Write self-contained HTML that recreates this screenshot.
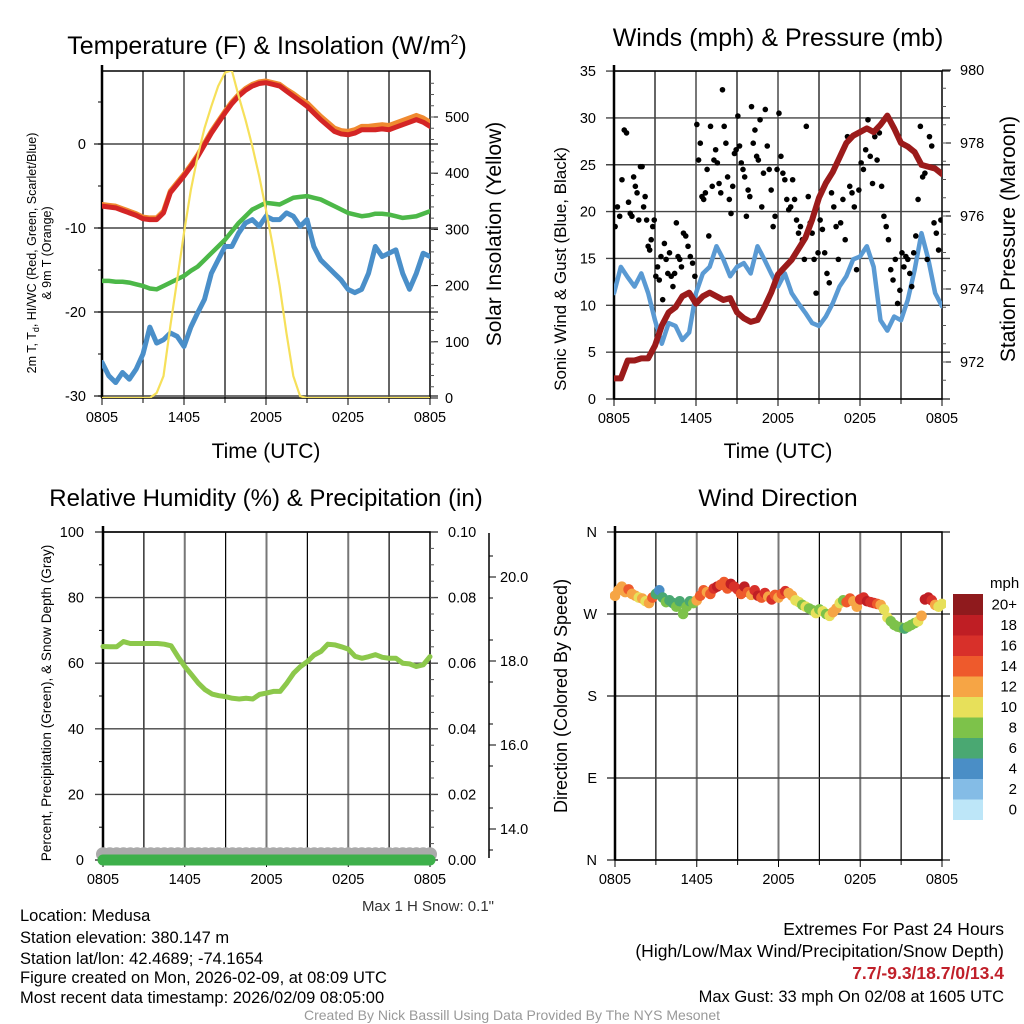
<!DOCTYPE html>
<html><head><meta charset="utf-8"><style>
html,body{margin:0;padding:0;background:#fff;}
svg{display:block;font-family:"Liberation Sans",sans-serif;}
</style></head><body>
<svg id="c" width="1024" height="1024" viewBox="0 0 1024 1024" xmlns="http://www.w3.org/2000/svg">
<defs>
<clipPath id="cp1"><rect x="102" y="71" width="328" height="327"/></clipPath>
<clipPath id="cp2"><rect x="614" y="71" width="328" height="328"/></clipPath>
<clipPath id="cp4"><rect x="610" y="528" width="336" height="336"/></clipPath>
</defs>
<g id="static">
<text x="267" y="54" font-size="25" text-anchor="middle">Temperature (F) &amp; Insolation (W/m<tspan font-size="14" dy="-10">2</tspan><tspan dy="10">)</tspan></text>
<text x="778" y="46" font-size="25" text-anchor="middle">Winds (mph) &amp; Pressure (mb)</text>
<text x="266" y="506" font-size="24" text-anchor="middle">Relative Humidity (%) &amp; Precipitation (in)</text>
<text x="778" y="506" font-size="24.5" text-anchor="middle">Wind Direction</text>
<text x="266" y="458" font-size="21" text-anchor="middle">Time (UTC)</text>
<text x="778" y="458" font-size="21" text-anchor="middle">Time (UTC)</text>
<g transform="translate(36,253) rotate(-90)"><text x="0" y="0" font-size="12.5" text-anchor="middle">2m T, T<tspan font-size="9" dy="3">d</tspan><tspan dy="-3">, HI/WC (Red, Green, Scarlet/Blue)</tspan></text><text x="0" y="15" font-size="12.5" text-anchor="middle">&amp; 9m T (Orange)</text></g>
<text transform="translate(501,234) rotate(-90)" font-size="21" text-anchor="middle">Solar Insolation (Yellow)</text>
<text transform="translate(566,269) rotate(-90)" font-size="17" text-anchor="middle">Sonic Wind &amp; Gust (Blue, Black)</text>
<text transform="translate(1015,239) rotate(-90)" font-size="21" text-anchor="middle">Station Pressure (Maroon)</text>
<text transform="translate(51,703) rotate(-90)" font-size="13.6" text-anchor="middle">Percent, Precipitation (Green), &amp; Snow Depth (Gray)</text>
<text transform="translate(567,696) rotate(-90)" font-size="18" text-anchor="middle">Direction (Colored By Speed)</text>
<text x="494" y="911" font-size="15" text-anchor="end" fill="#333">Max 1 H Snow: 0.1"</text>
<g font-size="16.5">
<text x="20" y="921">Location: Medusa</text>
<text x="20" y="943">Station elevation: 380.147 m</text>
<text x="20" y="964">Station lat/lon: 42.4689; -74.1654</text>
<text x="20" y="983">Figure created on Mon, 2026-02-09, at 08:09 UTC</text>
<text x="20" y="1003">Most recent data timestamp: 2026/02/09 08:05:00</text>
</g>
<g font-size="17.5" text-anchor="end">
<text x="1004" y="935">Extremes For Past 24 Hours</text>
<text x="1004" y="957">(High/Low/Max Wind/Precipitation/Snow Depth)</text>
<text x="1004" y="979" fill="#c0202a" font-weight="bold">7.7/-9.3/18.7/0/13.4</text>
<text x="1004" y="1002" font-size="16.5">Max Gust: 33 mph On 02/08 at 1605 UTC</text>
</g>
<text x="512" y="1020" font-size="14" fill="#999" text-anchor="middle">Created By Nick Bassill Using Data Provided By The NYS Mesonet</text>
<text x="990" y="588" font-size="15">mph</text>
</g>
<g id="dyn"></g>
</svg>
<script>
// ---- data (half-hourly unless noted) ----
const xTickLabels = ["0805","1405","2005","0205","0805"];
const tempTicks = [0,-10,-20,-30];
const solarTicks = [0,100,200,300,400,500];
const windTicks = [0,5,10,15,20,25,30,35];
const presTicks = [972,974,976,978,980];
const rhTicks = [0,20,40,60,80,100];
const precipTicks = ["0.00","0.02","0.04","0.06","0.08","0.10"];
const snowTicks = [14,16,18,20];
const dirLabels = ["N","E","S","W","N"];
const cbLabels = ["0","2","4","6","8","10","12","14","16","18","20+"];
const cbColors = ["#bde6f8","#84bce6","#4a8ec6","#4aa872","#7dc24a","#e7e05a","#f6a545","#ee5a2c","#d8302a","#bf1e24","#8f1a1d"];

const tempRed = [-7.4,-7.5,-7.6,-7.9,-8.2,-8.5,-8.9,-9.0,-9.0,-8.2,-5.8,-4.8,-3.8,-2.7,-1.5,-0.1,1.3,2.5,3.7,4.8,5.7,6.4,6.9,7.2,7.3,7.1,6.9,6.3,5.7,5.1,4.5,3.7,2.9,2.2,1.5,1.2,1.1,1.3,1.7,1.7,1.7,1.8,1.7,2.0,2.3,2.6,2.9,2.6,2.1];
const tempOrange = [-7.2,-7.3,-7.4,-7.7,-8.0,-8.3,-8.7,-8.8,-8.8,-8.0,-5.6,-4.6,-3.6,-2.5,-1.3,0.1,1.5,2.7,3.9,5.0,5.9,6.6,7.1,7.4,7.5,7.3,7.1,6.5,6.0,5.4,4.9,4.1,3.3,2.6,1.9,1.6,1.5,1.7,2.1,2.1,2.2,2.3,2.2,2.5,2.8,3.1,3.4,3.1,2.6];
const tempGreen = [-16.3,-16.3,-16.4,-16.4,-16.5,-16.7,-16.9,-17.2,-17.3,-16.9,-16.5,-16.1,-15.7,-15.1,-14.6,-13.8,-13.0,-12.2,-11.4,-10.4,-9.4,-8.6,-7.8,-7.4,-7.0,-7.1,-7.2,-6.8,-6.4,-6.3,-6.2,-6.4,-6.6,-7.0,-7.4,-7.8,-8.2,-8.4,-8.6,-8.5,-8.3,-8.3,-8.4,-8.6,-8.8,-8.7,-8.6,-8.3,-8.0];
const tempBlue = [-26.0,-27.6,-28.4,-27.2,-28.0,-26.8,-25.0,-21.8,-23.7,-23.3,-22.5,-22.9,-24.1,-21.8,-20.1,-18.5,-15.4,-13.8,-12.2,-12.2,-10.6,-9.4,-9.0,-9.8,-8.6,-9.0,-9.0,-8.2,-8.6,-9.8,-9.0,-12.2,-13.8,-14.6,-15.4,-16.2,-17.3,-17.7,-17.3,-15.4,-12.2,-13.4,-13.0,-12.6,-15.4,-17.3,-15.4,-13.0,-13.4];
const solar = [0,0,0,0,0,0,0,0,9,39,128,210,294,370,430,480,519,555,579,583,537,495,448,395,335,270,199,115,39,3,0,0,0,0,0,0,0,0,0,0,0,0,0,0,0,0,0,0,0];

const windBlue = [11.3,14.1,13.0,12.0,13.4,11.3,8.4,5.9,8.1,7.8,6.3,7.1,11.3,13.4,14.1,16.3,14.9,13.1,14.1,14.5,13.4,16.3,14.9,13.4,12.0,13.4,11.3,10.2,9.2,8.1,7.8,8.8,10.2,12.0,13.1,14.9,15.2,16.3,14.1,8.4,7.3,8.8,8.4,10.6,13.8,17.7,14.9,11.3,9.9];
const pressure = [971.55,971.55,972.04,972.04,972.1,972.1,972.45,973.0,973.36,973.5,973.8,973.9,973.6,973.8,973.9,973.8,973.7,973.75,973.36,973.2,973.1,973.15,973.5,973.9,974.4,974.6,974.8,975.1,975.4,975.9,976.5,976.9,977.2,977.6,978.0,978.2,978.3,978.4,978.3,978.5,978.75,978.4,978.0,977.9,977.75,977.4,977.35,977.3,977.15];
const gustByHour = [
 [18.4,20.5,19.5,23.4,28.7,28.4],[21,19.8,19.5,23.7,22.7,22,19.1,24.8],[24.8,20.5,21.6,19.1,16.3,15.9,17,18.4,19.1],
 [13.1,14.1,12.7,15.2,10.6,16.6,14.9,13.4],[15.6,13.1,12,13.4,18.8,15.2,14.9,14.1],[17.7,17.4,16.3,15.2,14.5,13.1],
 [29.3,25.5,27.3,21.6,21.3,22,24.5,17.4],[29.1,22.7,25.5,26.6,25.2,23,22,33],[29.1,27.3,23.7,21.3,19.8,22.7,26.2,26.6],
 [30.2,27,25.2,24.5,23.7,19.5,22.3,21.6],[31.2,27.3,28.7,25.9,25.5,29.8,20.5,24.1],[30.9,27,24.5,22.3,18.4,19.5,24.5],
 [30.5,25.9,24.1,23.4,21.3,20.2,20.5],[23.4,21.3,19.1,17.7,18.4,17,14.9],[29.1,21.6,18.8,17.7,14.9,11.3,15.6],
 [19.1,18.1,15.6,13.4,12.4,22],[20.5,18.4,14.9,18.8,21.3,17],[28,22.7,22,20.5,13.8,22.3],
 [25.2,24.5,26.6,29.8,25.9,23],[28,25.5,28.4,22.7,19.5,18.4],[17,13.8,12.7,14.9,10.2,11.6],
 [15.6,14.1,15.2,14.9,13.4,12,15.6],[17.4,21.3,29.1,23.7,24.1,14.9],[28,27,18.8,17.7,15.9,19.1]];

const rh = [65.1,65.0,65.0,66.6,66.0,66.0,66.0,66.0,66.0,65.8,65.3,62.0,59.0,56.5,53.9,51.9,50.6,50.1,49.8,49.3,49.1,49.3,49.1,50.5,50.9,51.4,51.4,54.0,57.0,59.0,60.5,62.5,63.6,65.8,65.6,65.0,64.3,62.1,61.5,62.0,62.6,61.8,61.5,61.5,60.0,59.8,59.0,59.5,62.0];
const precip = [0,0,0,0,0,0,0,0,0,0,0,0,0,0,0,0,0,0,0,0,0,0,0,0,0,0,0,0,0,0,0,0,0,0,0,0,0,0,0,0,0,0,0,0,0,0,0,0,0];
const snowDepth = [13.4,13.4,13.4,13.4,13.4,13.4,13.4,13.4,13.4,13.4,13.4,13.4,13.4,13.4,13.4,13.4,13.4,13.4,13.4,13.4,13.4,13.4,13.4,13.4,13.4,13.4,13.4,13.4,13.4,13.4,13.4,13.4,13.4,13.4,13.4,13.4,13.4,13.4,13.4,13.4,13.4,13.4,13.4,13.4,13.4,13.4,13.4,13.4,13.4];

// quarter-hourly wind direction (deg) and speed (mph)
const windDir = [290,296,300,294,297,292,290,288,287,284,282,288,
 292,296,288,283,285,282,278,284,270,278,284,282,
 285,290,296,294,292,298,300,302,305,298,303,300,
 297,292,300,294,291,296,290,288,293,289,286,291,
 288,292,295,293,290,285,283,280,278,276,274,271,
 275,273,270,268,272,276,282,285,283,287,284,278,
 286,288,284,283,282,281,280,275,266,262,258,256,
 255,254,256,258,260,262,268,286,288,285,280,278,281];
const dirSpeed = [12,12,13,12,14,12,12,11,12,10,12,14,
 7,5,6,8,7,6,8,6,8,9,6,8,
 13,15,14,12,15,16,18,14,15,14,18,16,
 17,15,19,14,12,16,18,15,17,13,16,15,
 12,14,16,13,12,10,11,8,10,8,9,10,
 9,11,8,10,12,13,10,9,14,15,13,12,
 16,17,18,16,17,15,12,11,10,9,8,8,
 8,7,8,8,9,10,12,18,19,17,12,11,10];

// ---- helpers ----
const NS="http://www.w3.org/2000/svg";
const root=document.getElementById('dyn');
function mk(tag,attrs,parent){const e=document.createElementNS(NS,tag);for(const k in attrs)e.setAttribute(k,attrs[k]);(parent||root).appendChild(e);return e;}
function txt(s,x,y,size,anchor,parent){const t=mk('text',{x:x,y:y,'font-size':size,'text-anchor':anchor},parent);t.textContent=s;return t;}

function panel(x0,x1,y0,y1,hLinesY,name){
  const g=mk('g',{});
  
  
  for(let i=1;i<8;i++){const x=x0+(x1-x0)*i/8;mk('line',{x1:x,x2:x,y1:y0,y2:y1,stroke:(i%2?'#000':'#777'),'stroke-width':(i%2?1.2:2)},g);}
  hLinesY.forEach(y=>mk('line',{x1:x0-8,x2:x1+8,y1:y,y2:y,stroke:'#444','stroke-width':1.4},g));
  const f=mk('rect',{x:x0,y:y0,width:x1-x0,height:y1-y0,fill:'none',stroke:'#000','stroke-width':1.5});
  
  
  const xa=mk('g',{});
  
  
  xTickLabels.forEach((l,i)=>{const x=x0+(x1-x0)*i/4;mk('line',{x1:x,x2:x,y1:y1,y2:y1+7,stroke:'#000'},xa);txt(l,x,y1+24,14.5,'middle',xa);});
  for(let i=1;i<8;i+=2){const x=x0+(x1-x0)*i/8;mk('line',{x1:x,x2:x,y1:y1,y2:y1+5,stroke:'#000'},xa);}
  mk('line',{x1:x0,x2:x0,y1:y0-6,y2:y1,stroke:'#000','stroke-width':2.5},xa);
}
function poly(vals,xf,yf,color,w,name,clip){
  const pts=vals.map((v,i)=>xf(i)+','+yf(v)).join(' ');
  const p=mk('polyline',{points:pts,fill:'none',stroke:color,'stroke-width':w,'stroke-linejoin':'round','stroke-linecap':'round','clip-path':clip||''});
  
  
  return p;
}

// ---- Panel 1 ----
const P1={x0:102,x1:430,y0:71,y1:398};
const t1=t=>144-t*8.4, s1=w=>398-w*0.562, xh1=i=>P1.x0+(P1.x1-P1.x0)*i/48;
panel(P1.x0,P1.x1,P1.y0,P1.y1,tempTicks.map(t1),'p1');
const ay1=mk('g',{});


tempTicks.forEach(t=>{txt(String(t),86,t1(t)+5,14.5,'end',ay1);});
for(let t=-30;t<=5;t+=5){mk('line',{x1:P1.x0-4,x2:P1.x0,y1:t1(t),y2:t1(t),stroke:'#000'},ay1);}
const ar1=mk('g',{});


solarTicks.forEach(w=>{mk('line',{x1:P1.x1,x2:P1.x1+8,y1:s1(w),y2:s1(w),stroke:'#000'},ar1);txt(String(w),445,s1(w)+5,14.5,'start',ar1);});
for(let w=20;w<580;w+=20){mk('line',{x1:P1.x1,x2:P1.x1+4,y1:s1(w),y2:s1(w),stroke:'#555'},ar1);}
poly(tempBlue,xh1,t1,'#4a8fc9',5,'dew-chill-line-blue','url(#cp1)');
poly(tempGreen,xh1,t1,'#4cb848',4.5,'dewpoint-line-green','url(#cp1)');
poly(tempOrange,xh1,t1,'#f08a30',5,'temp-9m-line-orange','url(#cp1)');
poly(tempRed,xh1,t1,'#d42525',5,'temp-2m-line-red','url(#cp1)');
poly(solar,xh1,s1,'#f6e05a',2.2,'solar-insolation-line','url(#cp1)');

// ---- Panel 2 ----
const P2={x0:614,x1:942,y0:71,y1:399};
const w2=v=>399-v*9.37, p2=p=>362-(p-972)*36.5, xh2=i=>P2.x0+(P2.x1-P2.x0)*i/48;
panel(P2.x0,P2.x1,P2.y0,P2.y1,windTicks.map(w2),'p2');
const ay2=mk('g',{});


windTicks.forEach(v=>txt(String(v),596,w2(v)+5,14.5,'end',ay2));
const ar2=mk('g',{});


presTicks.forEach(p=>{mk('line',{x1:P2.x1,x2:P2.x1+9,y1:p2(p),y2:p2(p),stroke:'#000'},ar2);txt(String(p),960,p2(p)+5,14.5,'start',ar2);});
for(let p=971.5;p<980;p+=0.5){mk('line',{x1:P2.x1,x2:P2.x1+4,y1:p2(p),y2:p2(p),stroke:'#555'},ar2);}
poly(windBlue,xh2,w2,'#5a9ad3',4.5,'sonic-wind-line','url(#cp2)');
const gg=mk('g',{'clip-path':'url(#cp2)'});


gustByHour.forEach((arr,h)=>arr.forEach((v,j)=>{
  const x=P2.x0+(P2.x1-P2.x0)*(h+(j+0.5)/arr.length)/24;
  const c=mk('circle',{cx:x,cy:w2(v),r:2.8,fill:'#000'},gg);
  
  
}));
poly(pressure,xh2,p2,'#9b1b1b',6,'pressure-line','url(#cp2)');

// ---- Panel 3 ----
const P3={x0:103,x1:430,y0:532,y1:860};
const r3=v=>860-v*3.28, sn3=s=>829-(s-14)*42, pr3=v=>860-v*3280, xh3=i=>P3.x0+(P3.x1-P3.x0)*i/48;
panel(P3.x0,P3.x1,P3.y0,P3.y1,rhTicks.map(r3),'p3');
const ay3=mk('g',{});


rhTicks.forEach(v=>txt(String(v),84,r3(v)+5,14.5,'end',ay3));
for(let v=10;v<100;v+=20){mk('line',{x1:P3.x0-4,x2:P3.x0,y1:r3(v),y2:r3(v),stroke:'#000'},ay3);}
const ar3=mk('g',{});


precipTicks.forEach((l,i)=>txt(l,448,r3(i*20)+5,14.5,'start',ar3));
for(let v=5;v<100;v+=5){mk('line',{x1:P3.x1,x2:P3.x1+4,y1:r3(v),y2:r3(v),stroke:'#555'},ar3);}
const as3=mk('g',{});


mk('line',{x1:489,x2:489,y1:533,y2:858,stroke:'#000','stroke-width':1.5},as3);
snowTicks.forEach(s=>{mk('line',{x1:489,x2:496,y1:sn3(s),y2:sn3(s),stroke:'#000'},as3);txt(s.toFixed(1),500,sn3(s)+5,14.5,'start',as3);});
for(let s=13.5;s<21;s+=1){mk('line',{x1:489,x2:493,y1:sn3(s),y2:sn3(s),stroke:'#000'},as3);}
const sg=mk('g',{});


snowDepth.forEach((s,i)=>{const c=mk('circle',{cx:xh3(i),cy:sn3(s),r:7,fill:'#aaaaaa'},sg);
  
  });
poly(snowDepth,xh3,sn3,'#aaaaaa',12,'snow-depth-line');
poly(precip,xh3,pr3,'#3db04a',11,'precip-line');
poly(rh,xh3,r3,'#8cc84b',5,'relative-humidity-line');

// ---- Panel 4 ----
const P4={x0:615,x1:942,y0:532,y1:860};
const d4=d=>860-d/360*328, xq4=i=>P4.x0+(P4.x1-P4.x0)*i/96;
panel(P4.x0,P4.x1,P4.y0,P4.y1,[0,90,180,270,360].map(d4),'p4');
const ay4=mk('g',{});


dirLabels.forEach((l,i)=>txt(l,597,d4(i*90)+5,14.5,'end',ay4));
const dg=mk('g',{'clip-path':'url(#cp4)'});


windDir.forEach((d,i)=>{
  const b=Math.min(10,Math.floor(dirSpeed[i]/2));
  const c=mk('circle',{cx:xq4(i),cy:d4(d),r:5.3,fill:cbColors[b]},dg);
  
  
});
const cb=mk('g',{});


const cbTop=594,cbH=20.5;
cbColors.forEach((col,i)=>{
  const y=cbTop+(10-i)*cbH;
  const r=mk('rect',{x:953,y:y,width:30,height:cbH+0.5,fill:col},cb);
  
  
  txt(cbLabels[i],1017,y+cbH/2+5,15,'end',cb);
});
</script>
</body></html>
